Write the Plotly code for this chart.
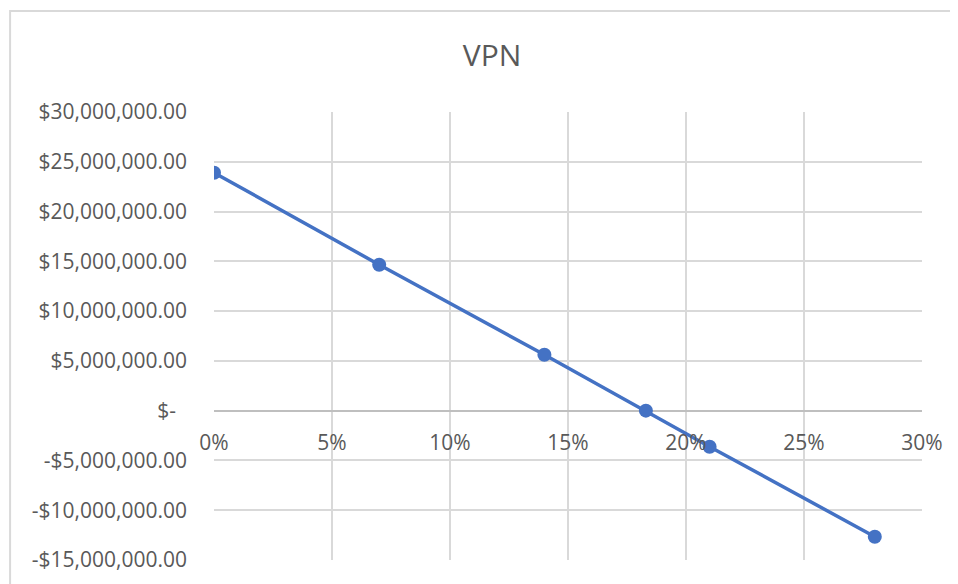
import plotly.graph_objects as go

# tasa de descuento vs VPN
tasas = [0.0, 0.07, 0.14, 0.183, 0.21, 0.28]
vpn = [23900000, 14660000, 5620000, 0, -3620000, -12660000]

y_ticks = [30e6, 25e6, 20e6, 15e6, 10e6, 5e6, 0, -5e6, -10e6, -15e6]
y_labels = ['$30,000,000.00', '$25,000,000.00', '$20,000,000.00', '$15,000,000.00',
            '$10,000,000.00', '$5,000,000.00', '$-\u00a0\u00a0', '-$5,000,000.00',
            '-$10,000,000.00', '-$15,000,000.00']
x_ticks = [0, 0.05, 0.10, 0.15, 0.20, 0.25, 0.30]
x_labels = ['0%', '5%', '10%', '15%', '20%', '25%', '30%']

gris = '#595959'
fuente = 'Open Sans'

fig = go.Figure()
fig.add_trace(go.Scatter(
    x=tasas, y=vpn, mode='lines+markers',
    line=dict(color='#4472C4', width=3.5),
    marker=dict(color='#4472C4', size=14),
    showlegend=False, xaxis='x', yaxis='y'
))
# eje secundario solo para las etiquetas sobre la linea del cero
fig.add_trace(go.Scatter(x=[0, 0.3], y=[0, 0], mode='none', showlegend=False,
                         hoverinfo='skip', xaxis='x2', yaxis='y'))

fig.update_layout(
    width=950, height=576,
    margin=dict(l=206, r=36, t=104, b=24),
    paper_bgcolor='white', plot_bgcolor='white',
    title=dict(text='VPN', x=0.5095, xanchor='center', y=0.9175, yanchor='middle',
               font=dict(family=fuente, size=30, color=gris)),
    xaxis=dict(range=[0, 0.30], tickvals=x_ticks, showticklabels=False,
               showgrid=True, gridcolor='#d9d9d9', gridwidth=1.5,
               zeroline=False, showline=False, ticks=''),
    xaxis2=dict(range=[0, 0.30], tickvals=x_ticks, ticktext=x_labels,
                overlaying='x', anchor='free', position=1/3, side='bottom',
                showgrid=False, zeroline=False, showline=False, ticks='',
                ticklabelstandoff=17,
                tickfont=dict(family=fuente, size=21, color=gris)),
    yaxis=dict(range=[-15e6, 30e6], tickvals=y_ticks, ticktext=y_labels,
               showgrid=True, gridcolor='#d9d9d9', gridwidth=1.5,
               zeroline=True, zerolinecolor='#bfbfbf', zerolinewidth=2,
               showline=False, ticks='', ticklabelstandoff=26,
               tickfont=dict(family=fuente, size=21, color=gris)),
    shapes=[dict(type='path', xref='paper', yref='paper',
                 path='M -0.288,-0.2 L -0.288,1.2254 L 1.2,1.2254',
                 line=dict(color='#d9d9d9', width=2))],
)

fig.write_html("out.html")
